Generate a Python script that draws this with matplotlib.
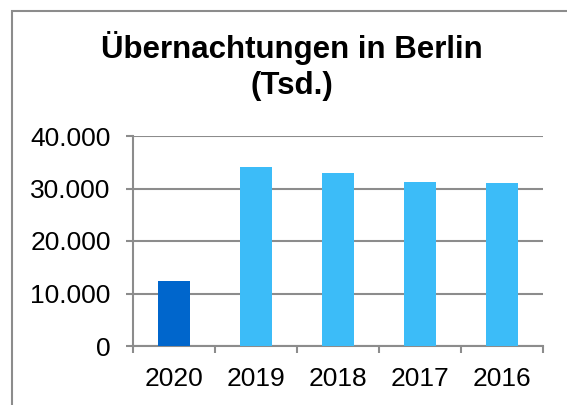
import matplotlib.pyplot as plt
from matplotlib.patches import Rectangle
from matplotlib.ticker import FixedLocator, FuncFormatter

years = ['2020', '2019', '2018', '2017', '2016']
values = [12400, 34100, 32900, 31200, 31000]
colors = ['#0066CC', '#3CBCF8', '#3CBCF8', '#3CBCF8', '#3CBCF8']

plt.rcParams['font.family'] = ['Liberation Sans', 'DejaVu Sans']

fig = plt.figure(figsize=(5.67, 4.05), dpi=100)
W, H = 567, 405

# chart frame (cropped: only left and top visible)
fig.patches.append(Rectangle((12 / W, -0.1), 1.2, 1 - 11 / H + 0.1,
                             transform=fig.transFigure, fill=False,
                             edgecolor='#8c8c8c', linewidth=1.5))

ax = fig.add_axes([133 / W, 1 - 346 / H, 410 / W, 210 / H])
x = range(len(years))
ax.bar(x, values, width=0.4, color=colors, zorder=3)

ax.set_xlim(-0.5, len(years) - 0.5)
ax.set_ylim(0, 40000)
ax.set_yticks([0, 10000, 20000, 30000, 40000])
ax.yaxis.set_major_formatter(FuncFormatter(lambda v, p: f'{int(v):,}'.replace(',', '.')))
ax.set_xticks(list(x))
ax.set_xticklabels(years)
ax.xaxis.set_minor_locator(FixedLocator([i - 0.5 for i in range(len(years) + 1)]))

ax.grid(axis='y', color='#8c8c8c', linewidth=1.5, zorder=0)
for s in ['top', 'right']:
    ax.spines[s].set_visible(False)
for s in ['left', 'bottom']:
    ax.spines[s].set_color('#8c8c8c')
    ax.spines[s].set_linewidth(1.5)

ax.tick_params(axis='y', length=5, width=1.5, color='#8c8c8c', pad=11, labelsize=19)
ax.tick_params(axis='x', which='major', length=0, pad=15, labelsize=19)
ax.tick_params(axis='x', which='minor', length=5, width=1.5, color='#8c8c8c')

fig.text(292 / W, 1 - 66 / H, 'Übernachtungen in Berlin\n(Tsd.)', ha='center', va='center',
         fontsize=22.5, fontweight='bold', linespacing=1.25)

fig.savefig('out.png', dpi=100)
